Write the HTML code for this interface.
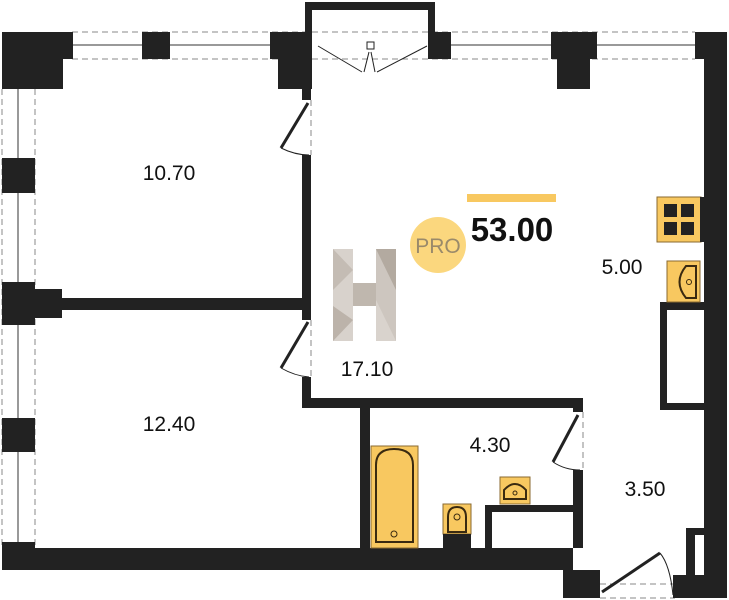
<!DOCTYPE html>
<html><head><meta charset="utf-8"><style>
html,body{margin:0;padding:0;background:#fff;}
svg{display:block;}
text{font-family:"Liberation Sans",sans-serif;}
</style></head><body>
<svg width="729" height="600" viewBox="0 0 729 600" xmlns="http://www.w3.org/2000/svg">
<g fill="none" stroke="#888" stroke-width="1" stroke-dasharray="6,4">
  <line x1="72" y1="32" x2="695" y2="32"/>
  <line x1="72" y1="59" x2="695" y2="59"/>
  <line x1="2" y1="89" x2="2" y2="545"/>
  <line x1="35" y1="89" x2="35" y2="545"/>
  <line x1="583" y1="412" x2="583" y2="472"/>
  <line x1="311" y1="100" x2="311" y2="155"/>
  <line x1="311" y1="320" x2="311" y2="377"/>
  <line x1="600" y1="584" x2="675" y2="584"/>
  <line x1="600" y1="598" x2="675" y2="598"/>
</g>
<g stroke="#333" stroke-width="1">
  <line x1="72" y1="45" x2="142" y2="45"/><line x1="170" y1="45" x2="270" y2="45"/>
  <line x1="451" y1="45" x2="551" y2="45"/><line x1="597" y1="45" x2="695" y2="45"/>
  <line x1="18" y1="89" x2="18" y2="158"/><line x1="18" y1="193" x2="18" y2="282"/>
  <line x1="18" y1="325" x2="18" y2="418"/><line x1="18" y1="452" x2="18" y2="542"/>
</g>
<g fill="#222">
  <!-- top-left corner -->
  <rect x="2" y="32" width="71" height="27"/><rect x="2" y="32" width="61" height="57"/>
  <rect x="142" y="32" width="28" height="27"/>
  <rect x="270" y="32" width="42" height="27"/><rect x="278" y="32" width="34" height="57"/>
  <!-- left piers -->
  <rect x="2" y="158" width="33" height="35"/>
  <rect x="2" y="282" width="33" height="43"/><rect x="35" y="289" width="27" height="29"/>
  <rect x="2" y="418" width="33" height="34"/>
  <rect x="2" y="542" width="33" height="28"/>
  <!-- balcony frame -->
  <rect x="305" y="2" width="130" height="8"/><rect x="305" y="2" width="7" height="30"/><rect x="428" y="2" width="7" height="30"/>
  <rect x="428" y="32" width="23" height="27"/>
  <rect x="551" y="32" width="46" height="27"/><rect x="557" y="32" width="33" height="57"/>
  <!-- right wall -->
  <rect x="695" y="32" width="32" height="27"/><rect x="704" y="32" width="23" height="566"/>
  <!-- living left wall -->
  <rect x="302" y="89" width="9" height="11"/><rect x="302" y="155" width="9" height="165"/>
  <rect x="302" y="377" width="9" height="31"/>
  <!-- bedroom divider -->
  <rect x="62" y="298" width="240" height="12"/>
  <!-- corridor horizontal -->
  <rect x="302" y="398" width="281" height="10"/>
  <rect x="360" y="408" width="10" height="140"/>
  <rect x="573" y="398" width="10" height="14"/><rect x="573" y="470" width="10" height="78"/>
  <rect x="485" y="505" width="88" height="7"/><rect x="485" y="505" width="7" height="43"/>
  <!-- bottom wall -->
  <rect x="2" y="548" width="561" height="22"/>
  <rect x="563" y="548" width="10" height="22"/>
  <rect x="563" y="570" width="37" height="28"/>
  <rect x="673" y="575" width="54" height="23"/>
  <rect x="686" y="528" width="18" height="7"/><rect x="686" y="528" width="9" height="47"/>
  <!-- kitchen niche -->
  <rect x="660" y="302" width="44" height="8"/><rect x="660" y="302" width="7" height="108"/><rect x="660" y="403" width="44" height="7"/>
</g>
<!-- doors -->
<g stroke="#222" stroke-width="3" fill="none">
  <line x1="308" y1="103" x2="281" y2="148"/>
  <line x1="308" y1="322" x2="281" y2="368"/>
  <line x1="578" y1="415" x2="553" y2="462"/>
  <line x1="602" y1="592" x2="660" y2="553"/>
</g>
<g stroke="#222" stroke-width="1" fill="none">
  <path d="M281 148 Q295 155 309 155"/>
  <path d="M281 368 Q295 376 309 377"/>
  <path d="M553 462 Q565 470 580 470"/>
  <path d="M660 553 Q670 565 673 595"/>
  <line x1="318" y1="46" x2="362" y2="72"/><line x1="364" y1="72" x2="369" y2="52"/>
  <line x1="427" y1="46" x2="377" y2="72"/><line x1="375" y1="72" x2="371" y2="52"/>
  <rect x="367" y="42" width="7" height="7"/>
</g>
<!-- fixtures -->
<g stroke="#8a6a30" stroke-width="1" fill="#f8c860">
  <rect x="657" y="197" width="44" height="45"/>
  <rect x="667" y="261" width="33" height="41"/>
  <rect x="371" y="446" width="47" height="102"/>
  <rect x="443" y="504" width="28" height="30"/>
  <rect x="500" y="477" width="30" height="27"/>
</g>
<g fill="#222">
  <rect x="664" y="204" width="13" height="13"/><rect x="681" y="204" width="13" height="13"/>
  <rect x="664" y="222" width="13" height="13"/><rect x="681" y="222" width="13" height="13"/>
  <rect x="443" y="534" width="28" height="14"/>
  <rect x="700" y="197" width="4" height="45"/>
</g>
<g stroke="#3a2a10" stroke-width="2" fill="none">
  <path d="M696 266 L686 266 Q673 282 686 298 L696 298 Z"/>
  <path d="M376 542 L376 465 Q376 449 394 449 Q413 449 413 465 L413 542 Z"/>
  <path d="M448 532 L448 517 Q448 507 457 507 Q466 507 466 517 L466 532 Z"/>
  <path d="M504 499 L504 490 Q515 478 526 490 L526 499 Z"/>
</g>
<g stroke="#3a2a10" stroke-width="1" fill="none">
  <circle cx="689" cy="282" r="2.5"/><circle cx="394" cy="534" r="3"/><circle cx="457" cy="517" r="3"/><circle cx="515" cy="493" r="2"/>
</g>
<!-- logo -->
<rect x="467" y="194" width="89" height="8" fill="#f8c860"/>
<circle cx="438" cy="245" r="28" fill="#fbd77e"/>
<text x="438" y="253" font-size="21" fill="#9a8a6a" text-anchor="middle">PRO</text>
<g>
  <rect x="333" y="249" width="20" height="92" fill="#d8d2cc"/>
  <rect x="376" y="249" width="20" height="92" fill="#cdc6bf"/>
  <rect x="353" y="283" width="23" height="23" fill="#bfb7ae"/>
  <polygon points="333,249 353,270 333,290" fill="#c4bcb4"/>
  <polygon points="376,249 396,249 396,290" fill="#b3aaa0"/>
  <polygon points="333,306 353,320 333,341" fill="#bcb3aa"/>
  <polygon points="376,300 396,341 376,341" fill="#d9d3cd"/>
</g>
<text x="512" y="241" font-size="33" font-weight="bold" fill="#111" text-anchor="middle">53.00</text>
<g font-size="21" fill="#111" text-anchor="middle">
  <text x="169" y="180">10.70</text>
  <text x="169" y="431">12.40</text>
  <text x="367" y="376">17.10</text>
  <text x="490" y="452">4.30</text>
  <text x="645" y="496">3.50</text>
  <text x="622" y="274">5.00</text>
</g>
</svg>
</body></html>
